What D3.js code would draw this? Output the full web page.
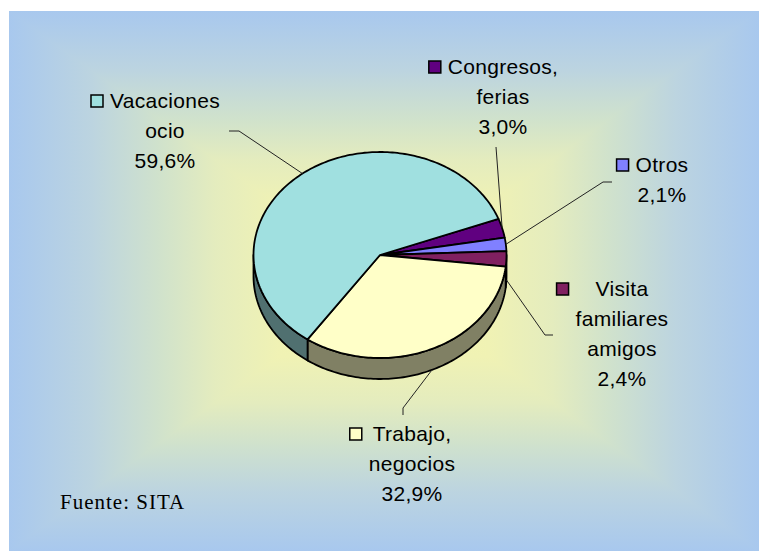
<!DOCTYPE html>
<html>
<head>
<meta charset="utf-8">
<script src="https://cdn.jsdelivr.net/npm/d3@7"></script>
<style>
html,body{margin:0;padding:0;background:#fff;}
svg{display:block;}
</style>
</head>
<body>
<svg id="chart" width="759" height="551"></svg>
<script>
// ---- data ----
const categories = ["Congresos, ferias", "Otros", "Visita familiares amigos", "Trabajo, negocios", "Vacaciones ocio"];
const values = [3.0, 2.1, 2.4, 32.9, 59.6];
const valueLabels = ["3,0%", "2,1%", "2,4%", "32,9%", "59,6%"];
const labelLines = [["Congresos,", "ferias"], ["Otros"], ["Visita", "familiares", "amigos"], ["Trabajo,", "negocios"], ["Vacaciones", "ocio"]];
const colors = ["#600080", "#8080ff", "#802060", "#ffffc8", "#a0e0e0"];
const sourceText = "Fuente: SITA";

// ---- layout ----
const W = 759, H = 551;
const panel = {x: 9, y: 11, w: 750, h: 540};
const pieC = {x: 380, y: 255, rx: 126.5, ry: 103, depth: 21};
const startDeg = 69.5;
const labelPos = [
  {cx: 503, y: 74, leader: [[496, 147]]},
  {cx: 662, y: 172, leader: [[612, 182], [603, 182]]},
  {cx: 622, y: 296, leader: [[553, 335], [545, 335]]},
  {cx: 412, y: 441, leader: [[403, 415], [403, 408]]},
  {cx: 165, y: 108, leader: [[229, 131], [239, 131]]}
];
const lineStep = 30;

const svg = d3.select("#chart");
const defs = svg.append("defs");

// background: rectangular "from centre" gradient
const gStops = [
  [0, "#a8c8ee"], [0.11, "#bcd4e0"], [0.2, "#d0e2cc"], [0.275, "#e4ecbe"], [0.36, "#f0f2b4"], [0.5, "#f6f6ac"],
  [0.64, "#f0f2b4"], [0.725, "#e4ecbe"], [0.8, "#d0e2cc"], [0.89, "#bcd4e0"], [1, "#a8c8ee"]
];
function mkGrad(id, x1, y1, x2, y2) {
  const g = defs.append("linearGradient").attr("id", id).attr("gradientUnits", "userSpaceOnUse")
    .attr("x1", x1).attr("y1", y1).attr("x2", x2).attr("y2", y2);
  g.selectAll("stop").data(gStops).join("stop")
    .attr("offset", d => d[0]).attr("stop-color", d => d[1]);
}
mkGrad("gv", 0, panel.y, 0, panel.y + panel.h);
mkGrad("gh", panel.x, 0, panel.x + panel.w, 0);
const pcx = panel.x + panel.w / 2, pcy = panel.y + panel.h / 2;
svg.append("rect").attr("x", panel.x).attr("y", panel.y).attr("width", panel.w).attr("height", panel.h)
  .attr("fill", "url(#gv)");
const L = panel.x, R = panel.x + panel.w, T = panel.y, B = panel.y + panel.h;
svg.append("path").attr("d", `M${L},${T}L${pcx},${pcy}L${L},${B}Z`).attr("fill", "url(#gh)");
svg.append("path").attr("d", `M${R},${T}L${pcx},${pcy}L${R},${B}Z`).attr("fill", "url(#gh)");

// ---- pie ----
const pie = d3.pie().sort(null).value(d => d)
  .startAngle(startDeg * Math.PI / 180).endAngle(startDeg * Math.PI / 180 + 2 * Math.PI);
const arcs = pie(values);
const toT = a => a - Math.PI / 2;
const pt = (t, dy = 0) => [pieC.x + pieC.rx * Math.cos(t), pieC.y + pieC.ry * Math.sin(t) + dy];
const line = d3.line();
function arcPts(t1, t2, dy = 0) {
  const n = Math.max(2, Math.ceil(Math.abs(t2 - t1) / 0.02));
  return d3.range(n + 1).map(i => pt(t1 + (t2 - t1) * i / n, dy));
}
const sideColor = c => { const r = d3.rgb(c); return d3.rgb(r.r * 0.5, r.g * 0.5, r.b * 0.5).formatHex(); };

const gSide = svg.append("g");
arcs.forEach((a, i) => {
  const t1 = toT(a.startAngle), t2 = toT(a.endAngle);
  [[0, Math.PI], [2 * Math.PI, 3 * Math.PI], [-2 * Math.PI, -Math.PI]].forEach(([lo, hi]) => {
    const s = Math.max(t1, lo), e = Math.min(t2, hi);
    if (e > s) {
      const pts = arcPts(s, e).concat(arcPts(e, s, pieC.depth));
      gSide.append("path").attr("d", line(pts) + "Z")
        .attr("fill", sideColor(colors[i])).attr("stroke", "#000").attr("stroke-width", 1.8)
        .attr("stroke-linejoin", "round");
    }
  });
});
const gTop = svg.append("g");
arcs.forEach((a, i) => {
  const t1 = toT(a.startAngle), t2 = toT(a.endAngle);
  const pts = [[pieC.x, pieC.y]].concat(arcPts(t1, t2));
  gTop.append("path").attr("d", line(pts) + "Z")
    .attr("fill", colors[i]).attr("stroke", "#000").attr("stroke-width", 1.8)
    .attr("stroke-linejoin", "round");
});

// ---- leader lines ----
const gLead = svg.append("g");
arcs.forEach((a, i) => {
  const tm = toT((a.startAngle + a.endAngle) / 2);
  const end = pt(tm, Math.sin(tm) > 0 ? pieC.depth : 0);
  const pts = labelPos[i].leader.concat([end]);
  gLead.append("path").attr("d", line(pts)).attr("fill", "none")
    .attr("stroke", "#222").attr("stroke-width", 1);
});

// ---- labels ----
const font = "'Liberation Sans', Arial, sans-serif";
arcs.forEach((a, i) => {
  const lp = labelPos[i];
  const g = svg.append("g");
  const lines = labelLines[i].concat([valueLabels[i]]);
  const texts = g.selectAll("text").data(lines).join("text")
    .attr("x", lp.cx).attr("y", (d, k) => lp.y + k * lineStep)
    .attr("text-anchor", "middle")
    .attr("font-family", font).attr("font-size", 21).attr("letter-spacing", 0.3)
    .attr("fill", "#000").text(d => d);
  let maxW = 0;
  texts.each(function () { maxW = Math.max(maxW, this.getComputedTextLength()); });
  const left = lp.cx - maxW / 2;
  g.append("rect").attr("x", left - 7 - 12).attr("y", lp.y - 13).attr("width", 12).attr("height", 12)
    .attr("fill", colors[i]).attr("stroke", "#000").attr("stroke-width", 1.5);
});

svg.append("text").attr("x", 60).attr("y", 509)
  .attr("font-family", "'Liberation Serif', 'Times New Roman', serif").attr("font-size", 21)
  .attr("letter-spacing", 1).attr("fill", "#000").text(sourceText);
</script>
</body>
</html>
